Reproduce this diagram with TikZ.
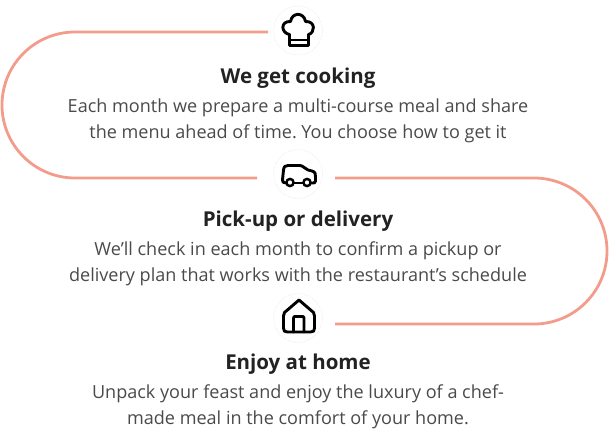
\documentclass[tikz,border=0pt]{standalone}
\usepackage{fontspec}
\setmainfont{Open Sans}
\frenchspacing
\definecolor{salmon}{HTML}{F39C8C}
\definecolor{ink}{HTML}{222222}
\definecolor{body}{HTML}{4A4A4A}
\tikzset{
  x=1pt,y=-1pt,
  route/.style={draw=salmon,line width=2.8pt},
  badge/.style={circle,draw=black!12,densely dotted,line width=.5pt,fill=white,minimum size=49pt,inner sep=0pt},
  icon/.style={draw=black,line width=2.9pt,line join=round,line cap=round},
  headline/.style={font=\fontsize{20.5}{24}\selectfont\bfseries,text=ink,anchor=center,inner sep=0pt},
  blurb/.style={font=\fontsize{18.05}{25.5}\selectfont,text=body,align=center,anchor=center,inner sep=0pt}
}
\begin{document}
\begin{tikzpicture}
\useasboundingbox (0,0) rectangle (609,441);
\node[badge] (b1) at (298,30.5) {};
\node[badge] (b2) at (298,174) {};
\node[badge] (b3) at (298,318) {};
\coordinate (s1) at (268,32);
\coordinate (e1) at (257,178);
\coordinate (s2) at (335,178);
\coordinate (e2) at (335,324);
\draw[route] (s1) -- (75,32) arc[start angle=-90,end angle=-270,radius=73] -- (e1);
\draw[route] (s2) -- (534,178) arc[start angle=-90,end angle=90,radius=73] -- (e2);
% chef hat
\draw[icon] (289.5,34.5) .. controls (281,33) and (280,21) .. (290.5,21.5)
  .. controls (292,12) and (304,12) .. (305.5,21.5)
  .. controls (316,21) and (315,33) .. (308.5,34.5) -- (308.5,45.5) -- (289.5,45.5) -- cycle;
\draw[icon] (289.5,40) -- (308.5,40);
% car
\draw[icon] (286,183) .. controls (283,183) and (282.5,182) .. (282.5,180) -- (283.5,170)
  .. controls (284,166.5) and (285,165.5) .. (288,165.5) -- (300,165.5)
  .. controls (303,165.5) and (305,169) .. (308,170) -- (312,171)
  .. controls (315.5,172) and (315.5,174) .. (315.5,177) -- (315.5,181) .. controls (315.5,183) and (314.5,183) .. (311,183);
\draw[icon] (294,183) -- (303,183);
\draw[draw=black,line width=2.4pt] (290,182.5) circle[radius=3.6];
\draw[draw=black,line width=2.4pt] (307,182.5) circle[radius=3.6];
% house
\draw[icon] (299,300) -- (284.5,312.5) .. controls (283.5,313.5) and (283.5,315) .. (283.5,316) -- (283.5,328) .. controls (283.5,331) and (284.5,332) .. (287.5,332) -- (310.5,332) .. controls (313.5,332) and (314.5,331) .. (314.5,328) -- (314.5,316) .. controls (314.5,315) and (314.5,313.5) .. (313.5,312.5) -- cycle;
\draw[icon] (293.5,332) -- (293.5,318.5) .. controls (293.5,317) and (294,316.5) .. (295,316.5) -- (302.5,316.5) .. controls (303.5,316.5) and (304,317) .. (304,318.5) -- (304,332);
% texts
\node[headline] (t1) at (298,78) {We get cooking};
\node[blurb] (d1) at (298,121) {Each month we prepare a multi-course meal and share\\the menu ahead of time. You choose how to get it};
\node[headline] (t2) at (298,221) {Pick-up or delivery};
\node[blurb] (d2) at (298,264) {We’ll check in each month to confirm a pickup or\\delivery plan that works with the restaurant’s schedule};
\node[headline] (t3) at (298,364) {Enjoy at home};
\node[blurb] (d3) at (298,407) {Unpack your feast and enjoy the luxury of a chef-\\made meal in the comfort of your home.};
\end{tikzpicture}
\end{document}
